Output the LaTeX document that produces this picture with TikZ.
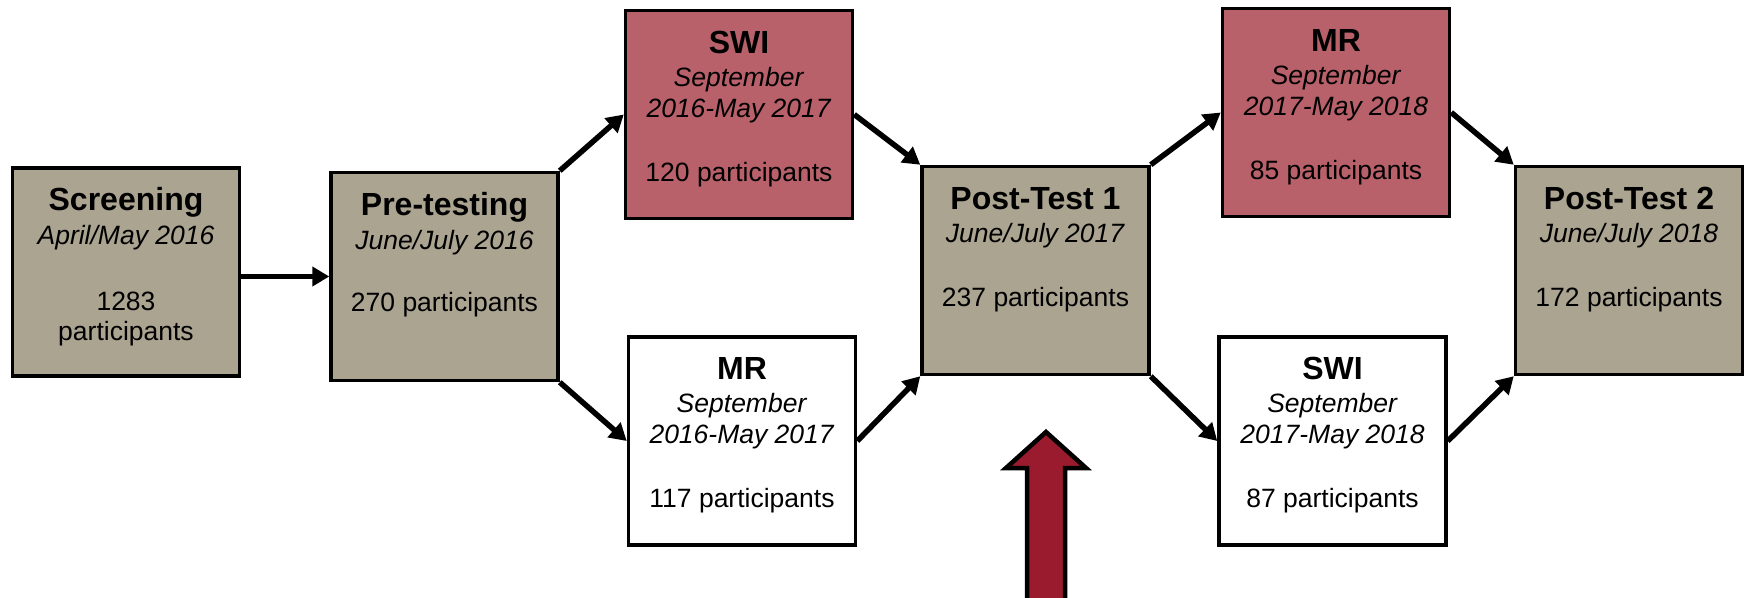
\documentclass[tikz,border=0pt]{standalone}
\usepackage{fontspec}
\setmainfont{Liberation Sans}
\usetikzlibrary{arrows.meta}
\definecolor{stagegray}{RGB}{171,164,145}
\definecolor{stagepink}{RGB}{185,97,106}
\definecolor{bigred}{RGB}{153,27,45}
\newcommand\stg[2]{\begin{minipage}[t][208pt][t]{227pt}\centering\lineskiplimit=-100pt\lineskip=0pt
\bfseries\fontsize{32}{33}\selectfont\rule{0pt}{42.5pt}#1\par #2\end{minipage}}
\newcommand\tline[2]{\normalfont\fontsize{26.5}{#1}\selectfont #2\par}
\tikzset{
  stagebox/.style={draw=black, line width=3.5pt, rectangle, inner sep=0pt,
    minimum width=227pt, minimum height=208pt},
  graybox/.style={stagebox, fill=stagegray},
  pinkbox/.style={stagebox, fill=stagepink},
  whitebox/.style={stagebox, fill=white},
  flow/.style={line width=5.5pt, -{Triangle[length=17pt,width=19pt]}},
  bigarrow/.style={draw=black, line width=4.5pt, fill=bigred, line join=miter}
}
\begin{document}
\begin{tikzpicture}[x=1pt,y=-1pt]
\useasboundingbox (0,0) rectangle (1745,597);
\node[graybox] (scr) at (126,272) {\stg{Screening}{\tline{34}{\textit{April/May 2016}}\tline{66}{1283}\tline{30}{participants}}};
\node[graybox] (pre) at (444.5,276.5) {\stg{Pre-testing}{\tline{34}{\textit{June/July 2016}}\tline{62}{270 participants}}};
\node[pinkbox] (swia) at (739,114.5) {\stg{SWI}{\tline{33}{\textit{September}}\tline{31}{\textit{2016-May 2017}}\tline{64}{120 participants}}};
\node[whitebox] (mra) at (742,441) {\stg{MR}{\tline{33}{\textit{September}}\tline{31}{\textit{2016-May 2017}}\tline{64}{117 participants}}};
\node[graybox] (pta) at (1035.5,270.5) {\stg{Post-Test 1}{\tline{33}{\textit{June/July 2017}}\tline{64}{237 participants}}};
\node[pinkbox] (mrb) at (1336,112.5) {\stg{MR}{\tline{33}{\textit{September}}\tline{31}{\textit{2017-May 2018}}\tline{64}{85 participants}}};
\node[whitebox] (swib) at (1332.5,441) {\stg{SWI}{\tline{33}{\textit{September}}\tline{31}{\textit{2017-May 2018}}\tline{64}{87 participants}}};
\node[graybox] (ptb) at (1629,270.5) {\stg{Post-Test 2}{\tline{33}{\textit{June/July 2018}}\tline{64}{172 participants}}};
\draw[flow] (scr.east |- pre.west) -- (pre.west);
\draw[flow] (pre.north east) -- (swia.west);
\draw[flow] (pre.south east) -- (mra.west);
\draw[flow] (swia.east) -- (pta.north west);
\draw[flow] (mra.east) -- (pta.south west);
\draw[flow] (pta.north east) -- (mrb.west);
\draw[flow] (pta.south east) -- (swib.west);
\draw[flow] (mrb.east) -- (ptb.north west);
\draw[flow] (swib.east) -- (ptb.south west);
\begin{scope}
\clip (0,0) rectangle (1745,597);
\draw[bigarrow] (1046,432) -- (1086,468) -- (1065,468) -- (1065,620) -- (1027,620) -- (1027,468) -- (1006,468) -- cycle;
\end{scope}
\end{tikzpicture}
\end{document}
